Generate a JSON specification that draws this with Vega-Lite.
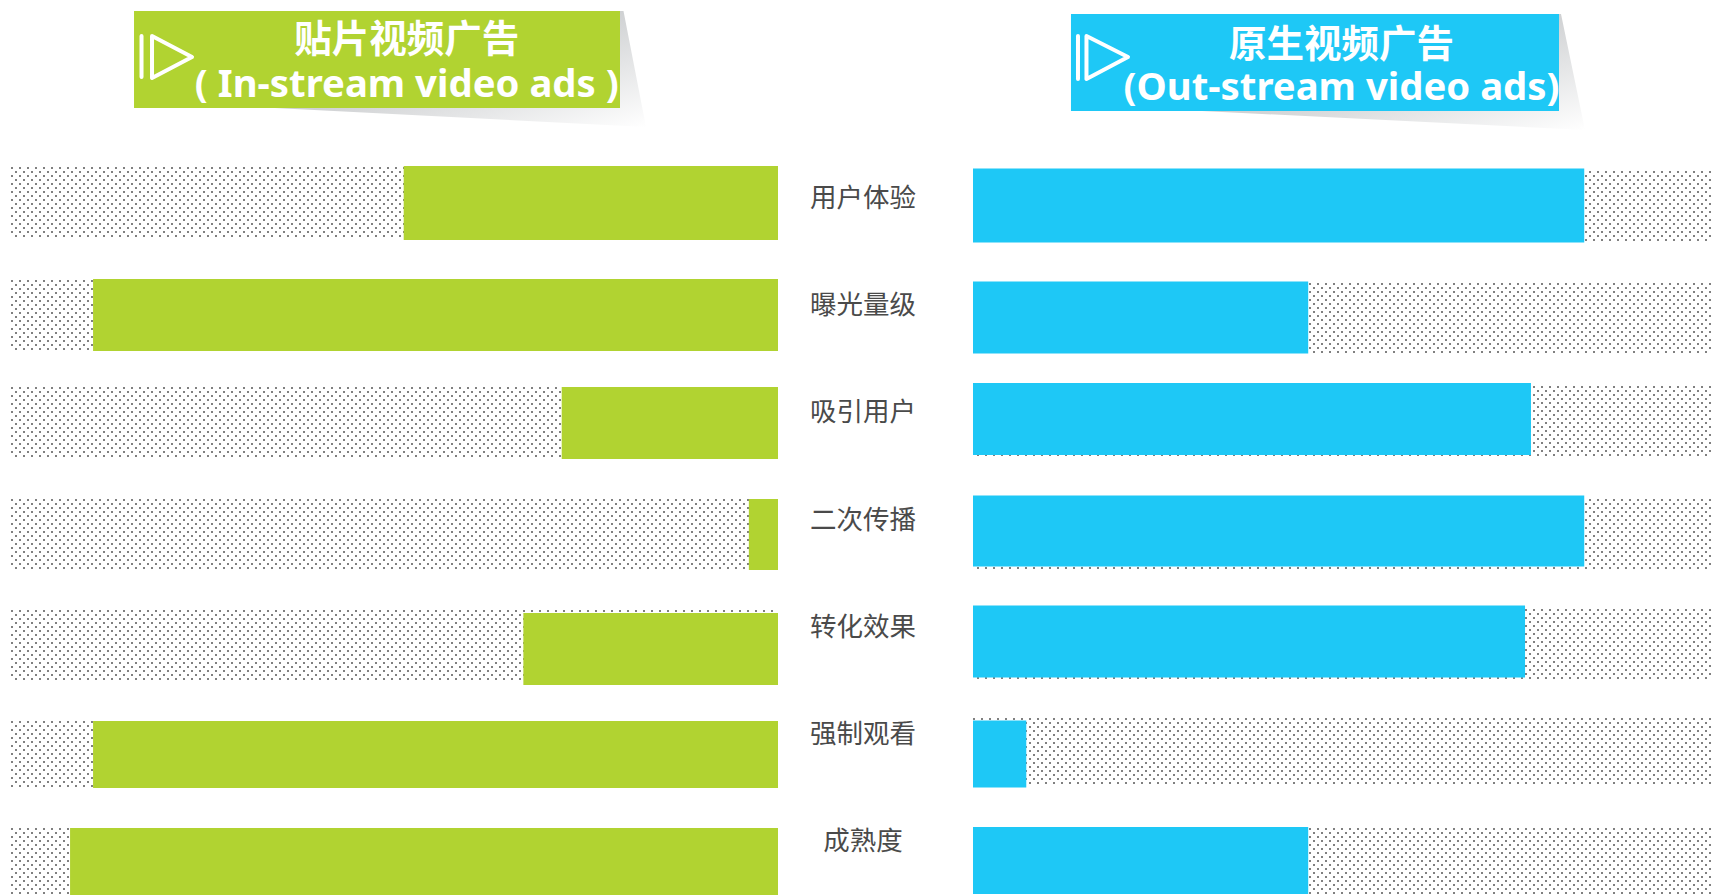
{"$schema":"https://vega.github.io/schema/vega-lite/v6.json","padding":{"left":7,"top":0,"right":0,"bottom":0},"background":"#ffffff","spacing":0,"bounds":"flush","config":{"view":{"stroke":null},"concat":{"spacing":0}},"datasets":{"metrics":[{"rank":1,"metric":"用户体验","inStream":48.8,"outStream":82.6},{"rank":2,"metric":"曝光量级","inStream":89.3,"outStream":45.3},{"rank":3,"metric":"吸引用户","inStream":28.2,"outStream":75.4},{"rank":4,"metric":"二次传播","inStream":3.8,"outStream":82.6},{"rank":5,"metric":"转化效果","inStream":33.2,"outStream":74.6},{"rank":6,"metric":"强制观看","inStream":89.3,"outStream":7.2},{"rank":7,"metric":"成熟度","inStream":92.3,"outStream":45.3}],"leftHeader":[{"title":"贴片视频广告","en":"( In-stream video ads )"}],"rightHeader":[{"title":"原生视频广告","en":"(Out-stream video ads)"}]},"hconcat":[{"width":767,"height":895,"resolve":{"scale":{"y":"independent"}},"layer":[{"data":{"name":"metrics"},"transform":[{"filter":"datum.rank<6"}],"mark":{"type":"point","filled":false,"opacity":1,"size":4,"stroke":"#808080","strokeWidth":2,"strokeDash":[2,6],"shape":"M0 -34H767M4 -30H767M0 -26H767M4 -22H767M0 -18H767M4 -14H767M0 -10H767M4 -6H767M0 -2H767M4 2H767M0 6H767M4 10H767M0 14H767M4 18H767M0 22H767M4 26H767M0 30H767M4 34H767"},"encoding":{"x":{"datum":100,"type":"quantitative","scale":{"domain":[0,100],"reverse":true},"axis":null},"y":{"field":"rank","type":"quantitative","scale":{"domain":[1,2,3,4,5],"range":[202,315,422,534,645]},"axis":null}}},{"data":{"name":"metrics"},"transform":[{"filter":"datum.rank>=6"}],"mark":{"type":"point","filled":false,"opacity":1,"size":4,"stroke":"#808080","strokeWidth":2,"strokeDash":[2,6],"shape":"M0 -34H767M4 -30H767M0 -26H767M4 -22H767M0 -18H767M4 -14H767M0 -10H767M4 -6H767M0 -2H767M4 2H767M0 6H767M4 10H767M0 14H767M4 18H767M0 22H767M4 26H767M0 30H767"},"encoding":{"x":{"datum":100,"type":"quantitative","scale":{"domain":[0,100],"reverse":true},"axis":null},"y":{"field":"rank","type":"quantitative","scale":{"domain":[6,7],"range":[756,863]},"axis":null}}},{"data":{"name":"metrics"},"mark":{"type":"bar","orient":"horizontal","color":"#b1d331"},"encoding":{"x":{"field":"inStream","type":"quantitative","scale":{"domain":[0,100],"reverse":true},"axis":null},"x2":{"datum":0},"y":{"field":"rank","type":"quantitative","scale":{"padding":0,"domain":[1,2,3,4,5,6,7],"range":[203,315,423,534.5,649,754.5,861.5]},"axis":null},"size":{"field":"rank","type":"quantitative","legend":null,"scale":{"zero":false,"domain":[1,2,3,4,5,6,7],"range":[74,72,72,71,72,67,67]}}}},{"data":{"name":"leftHeader"},"mark":{"type":"point","filled":true,"opacity":1,"size":4,"strokeWidth":0,"shape":"M0 0L3.5 0L26 116L-345 97L0 97Z","fill":{"x1":0,"y1":0,"x2":1,"y2":1,"gradient":"linear","stops":[{"offset":0.4,"color":"#c9cbcd"},{"offset":1,"color":"#ffffff"}]}},"encoding":{"x":{"datum":20.6,"type":"quantitative"},"y":{"datum":11,"type":"quantitative","scale":{"domain":[0,895],"range":[0,895]},"axis":null}}},{"data":{"name":"leftHeader"},"mark":{"type":"rect","color":"#b1d331"},"encoding":{"x":{"datum":83.96,"type":"quantitative"},"x2":{"datum":20.6},"y":{"datum":11,"type":"quantitative","scale":{"domain":[0,895],"range":[0,895]},"axis":null},"y2":{"datum":108}}},{"data":{"name":"leftHeader"},"mark":{"type":"point","filled":false,"opacity":1,"size":4,"stroke":"#ffffff","strokeWidth":4,"strokeJoin":"round","strokeCap":"round","shape":"M7.5 25V66M18 25L58 46L18 67Z"},"encoding":{"x":{"datum":83.96,"type":"quantitative"},"y":{"datum":11,"type":"quantitative","scale":{"domain":[0,895],"range":[0,895]},"axis":null}}},{"data":{"name":"leftHeader"},"mark":{"type":"text","align":"center","baseline":"middle","font":"Noto Sans CJK SC","fontWeight":"bold","fontSize":37.5,"color":"#ffffff"},"encoding":{"text":{"field":"title"},"x":{"datum":48.4,"type":"quantitative"},"y":{"datum":41,"type":"quantitative","scale":{"domain":[0,895],"range":[0,895]},"axis":null}}},{"data":{"name":"leftHeader"},"mark":{"type":"text","align":"center","baseline":"middle","font":"Noto Sans","fontWeight":"bold","fontSize":38.3,"color":"#ffffff"},"encoding":{"text":{"field":"en"},"x":{"datum":48.4,"type":"quantitative"},"y":{"datum":86,"type":"quantitative","scale":{"domain":[0,895],"range":[0,895]},"axis":null}}}]},{"width":195,"height":895,"data":{"name":"metrics"},"mark":{"type":"text","align":"center","baseline":"middle","font":"Noto Sans CJK SC","fontSize":26.5,"color":"#4a4a4a"},"encoding":{"text":{"field":"metric"},"x":{"datum":43.6,"type":"quantitative","scale":{"domain":[0,100]},"axis":null},"y":{"field":"rank","type":"quantitative","scale":{"domain":[1,7],"range":[199,842]},"axis":null}}},{"width":744,"height":895,"resolve":{"scale":{"y":"independent"}},"layer":[{"data":{"name":"metrics"},"transform":[{"filter":"datum.rank<6"}],"mark":{"type":"point","filled":false,"opacity":1,"size":4,"stroke":"#808080","strokeWidth":2,"strokeDash":[2,6],"shape":"M0 -34H744M4 -30H744M0 -26H744M4 -22H744M0 -18H744M4 -14H744M0 -10H744M4 -6H744M0 -2H744M4 2H744M0 6H744M4 10H744M0 14H744M4 18H744M0 22H744M4 26H744M0 30H744M4 34H744"},"encoding":{"x":{"datum":0,"type":"quantitative","scale":{"domain":[0,100.54],"nice":false},"axis":null},"y":{"field":"rank","type":"quantitative","scale":{"domain":[1,2,3,4,5],"range":[206,318,421,534,644]},"axis":null}}},{"data":{"name":"metrics"},"transform":[{"filter":"datum.rank>=6"}],"mark":{"type":"point","filled":false,"opacity":1,"size":4,"stroke":"#808080","strokeWidth":2,"strokeDash":[2,6],"shape":"M0 -34H744M4 -30H744M0 -26H744M4 -22H744M0 -18H744M4 -14H744M0 -10H744M4 -6H744M0 -2H744M4 2H744M0 6H744M4 10H744M0 14H744M4 18H744M0 22H744M4 26H744M0 30H744"},"encoding":{"x":{"datum":0,"type":"quantitative","scale":{"domain":[0,100.54],"nice":false},"axis":null},"y":{"field":"rank","type":"quantitative","scale":{"domain":[6,7],"range":[753,863]},"axis":null}}},{"data":{"name":"metrics"},"mark":{"type":"bar","orient":"horizontal","color":"#1ec8f6"},"encoding":{"x":{"field":"outStream","type":"quantitative","scale":{"domain":[0,100.54],"nice":false},"axis":null},"x2":{"datum":0},"y":{"field":"rank","type":"quantitative","scale":{"padding":0,"domain":[1,2,3,4,5,6,7],"range":[205.5,317.5,419,531,641.5,754,860.5]},"axis":null},"size":{"field":"rank","type":"quantitative","legend":null,"scale":{"zero":false,"domain":[1,2,3,4,5,6,7],"range":[71,71,68,72,69,68,69]}}}},{"data":{"name":"rightHeader"},"mark":{"type":"point","filled":true,"opacity":1,"size":4,"strokeWidth":0,"shape":"M0 0L2 0L26 116L-357 97L0 97Z","fill":{"x1":0,"y1":0,"x2":1,"y2":1,"gradient":"linear","stops":[{"offset":0.4,"color":"#c9cbcd"},{"offset":1,"color":"#ffffff"}]}},"encoding":{"x":{"datum":79.19,"type":"quantitative"},"y":{"datum":14,"type":"quantitative","scale":{"domain":[0,895],"range":[0,895]},"axis":null}}},{"data":{"name":"rightHeader"},"mark":{"type":"rect","color":"#1ec8f6"},"encoding":{"x":{"datum":13.24,"type":"quantitative"},"x2":{"datum":79.19},"y":{"datum":14,"type":"quantitative","scale":{"domain":[0,895],"range":[0,895]},"axis":null},"y2":{"datum":111}}},{"data":{"name":"rightHeader"},"mark":{"type":"point","filled":false,"opacity":1,"size":4,"stroke":"#ffffff","strokeWidth":4,"strokeJoin":"round","strokeCap":"round","shape":"M7 22V65M15.5 22L57 43L15.5 65Z"},"encoding":{"x":{"datum":13.24,"type":"quantitative"},"y":{"datum":14,"type":"quantitative","scale":{"domain":[0,895],"range":[0,895]},"axis":null}}},{"data":{"name":"rightHeader"},"mark":{"type":"text","align":"center","baseline":"middle","font":"Noto Sans CJK SC","fontWeight":"bold","fontSize":37.5,"color":"#ffffff"},"encoding":{"text":{"field":"title"},"x":{"datum":49.8,"type":"quantitative"},"y":{"datum":46,"type":"quantitative","scale":{"domain":[0,895],"range":[0,895]},"axis":null}}},{"data":{"name":"rightHeader"},"mark":{"type":"text","align":"center","baseline":"middle","font":"Noto Sans","fontWeight":"bold","fontSize":38.3,"color":"#ffffff"},"encoding":{"text":{"field":"en"},"x":{"datum":49.8,"type":"quantitative"},"y":{"datum":89,"type":"quantitative","scale":{"domain":[0,895],"range":[0,895]},"axis":null}}}]}]}
